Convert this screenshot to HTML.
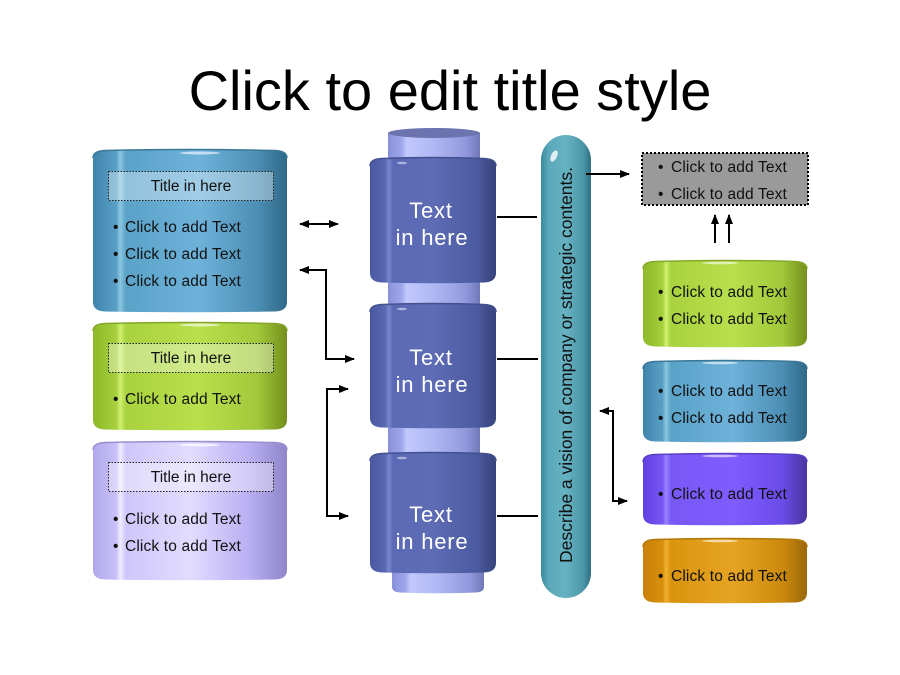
<!DOCTYPE html>
<html><head><meta charset="utf-8"><style>
html,body{margin:0;padding:0;background:#fff;}
svg{display:block;}
text{font-family:"Liberation Sans",Arial,sans-serif;}
</style></head><body>
<svg width="900" height="675" viewBox="0 0 900 675" xmlns="http://www.w3.org/2000/svg">
<defs>
<linearGradient id="blueG" x1="0" y1="0" x2="1" y2="0">
<stop offset="0" stop-color="#3f84aa"/><stop offset=".12" stop-color="#5aa0c6"/><stop offset=".14" stop-color="#8cc6e0"/><stop offset=".17" stop-color="#5aa2c8"/><stop offset=".55" stop-color="#6eb2da"/><stop offset=".85" stop-color="#4c8eb4"/><stop offset="1" stop-color="#2f6888"/>
</linearGradient>
<linearGradient id="greenG" x1="0" y1="0" x2="1" y2="0">
<stop offset="0" stop-color="#8cb82a"/><stop offset=".12" stop-color="#a6d03c"/><stop offset=".14" stop-color="#d0f070"/><stop offset=".17" stop-color="#a8d23e"/><stop offset=".55" stop-color="#b8e04c"/><stop offset=".85" stop-color="#a0c83a"/><stop offset="1" stop-color="#748f1c"/>
</linearGradient>
<linearGradient id="lavG" x1="0" y1="0" x2="1" y2="0">
<stop offset="0" stop-color="#b0a8ec"/><stop offset=".12" stop-color="#c8c0f8"/><stop offset=".14" stop-color="#f0ecff"/><stop offset=".17" stop-color="#cec6fa"/><stop offset=".5" stop-color="#e2dcfe"/><stop offset=".8" stop-color="#bab0f4"/><stop offset="1" stop-color="#8e86c8"/>
</linearGradient>
<linearGradient id="purpleG" x1="0" y1="0" x2="1" y2="0">
<stop offset="0" stop-color="#6040e0"/><stop offset=".12" stop-color="#7656f4"/><stop offset=".14" stop-color="#9a84ff"/><stop offset=".17" stop-color="#7858f6"/><stop offset=".55" stop-color="#7e5cff"/><stop offset=".85" stop-color="#6a4ce8"/><stop offset="1" stop-color="#4a34a0"/>
</linearGradient>
<linearGradient id="orangeG" x1="0" y1="0" x2="1" y2="0">
<stop offset="0" stop-color="#c88008"/><stop offset=".12" stop-color="#d8900c"/><stop offset=".14" stop-color="#f0b030"/><stop offset=".17" stop-color="#da940e"/><stop offset=".55" stop-color="#e6a424"/><stop offset=".85" stop-color="#cc8a0c"/><stop offset="1" stop-color="#9a6808"/>
</linearGradient>
<linearGradient id="cylG" x1="0" y1="0" x2="1" y2="0">
<stop offset="0" stop-color="#4a58a2"/><stop offset=".12" stop-color="#5a68b4"/><stop offset=".15" stop-color="#7886cc"/><stop offset=".18" stop-color="#5c6ab6"/><stop offset=".5" stop-color="#5e6cb6"/><stop offset=".85" stop-color="#4c5aa0"/><stop offset="1" stop-color="#36427a"/>
</linearGradient>
<linearGradient id="capG" x1="0" y1="0" x2="1" y2="0">
<stop offset="0" stop-color="#8890d8"/><stop offset=".15" stop-color="#a0a8ec"/><stop offset=".2" stop-color="#c0c8fc"/><stop offset=".5" stop-color="#b0b8f4"/><stop offset=".85" stop-color="#9098dc"/><stop offset="1" stop-color="#7078b8"/>
</linearGradient>
<linearGradient id="pillG" x1="0" y1="0" x2="1" y2="0">
<stop offset="0" stop-color="#3a8a9c"/><stop offset=".15" stop-color="#5aa8ba"/><stop offset=".5" stop-color="#66b2c2"/><stop offset=".85" stop-color="#4a96a8"/><stop offset="1" stop-color="#2e6e80"/>
</linearGradient>
<marker id="ah" viewBox="0 0 10 10" refX="9" refY="5" markerWidth="5" markerHeight="5" orient="auto-start-reverse" markerUnits="strokeWidth">
<path d="M0,1 L10,5 L0,9 Z" fill="#000"/>
</marker>
</defs>

<!-- Title -->
<text x="450" y="110" font-size="56" text-anchor="middle" fill="#000">Click to edit title style</text>

<!-- LEFT: blue box -->
<path d="M93,158 Q93,151 105,150.5 Q190,148.5 275,150.5 Q287,151 287,158 L287,302 Q287,311 275,311.5 Q190,313 105,311.5 Q93,311 93,302 Z" fill="url(#blueG)"/>
<path d="M93,158 Q93,151 105,150.5 Q190,148.5 275,150.5 Q287,151 287,158" fill="none" stroke="#3a7896" stroke-width="1.5"/>
<ellipse cx="200" cy="153" rx="20" ry="1.5" fill="#fff" opacity=".6"/>
<rect x="108.5" y="171.5" width="165" height="29" fill="#fff" fill-opacity=".35" stroke="#222" stroke-width="1" stroke-dasharray="1.5,1.5"/>
<text x="191" y="191" font-size="15.5" text-anchor="middle" fill="#111">Title in here</text>
<g font-size="15.5" fill="#111" letter-spacing="0.15">
<text x="113" y="232">•</text><text x="125" y="232">Click to add Text</text>
<text x="113" y="259">•</text><text x="125" y="259">Click to add Text</text>
<text x="113" y="286">•</text><text x="125" y="286">Click to add Text</text>
</g>

<!-- LEFT: green box -->
<path d="M93,331 Q93,324 105,323.5 Q190,321.5 275,323.5 Q287,324 287,331 L287,420 Q287,429 275,429.5 Q190,431 105,429.5 Q93,429 93,420 Z" fill="url(#greenG)"/>
<path d="M93,331 Q93,324 105,323.5 Q190,321.5 275,323.5 Q287,324 287,331" fill="none" stroke="#86a82a" stroke-width="1.5"/>
<ellipse cx="200" cy="325" rx="20" ry="1.5" fill="#fff" opacity=".6"/>
<rect x="108.5" y="343.5" width="165" height="29" fill="#fff" fill-opacity=".35" stroke="#222" stroke-width="1" stroke-dasharray="1.5,1.5"/>
<text x="191" y="363" font-size="15.5" text-anchor="middle" fill="#111">Title in here</text>
<g font-size="15.5" fill="#111" letter-spacing="0.15">
<text x="113" y="404">•</text><text x="125" y="404">Click to add Text</text>
</g>

<!-- LEFT: lavender box -->
<path d="M93,450 Q93,443 105,442.5 Q190,440.5 275,442.5 Q287,443 287,450 L287,570 Q287,579 275,579.5 Q190,581 105,579.5 Q93,579 93,570 Z" fill="url(#lavG)"/>
<path d="M93,450 Q93,443 105,442.5 Q190,440.5 275,442.5 Q287,443 287,450" fill="none" stroke="#9a90d0" stroke-width="1.5"/>
<ellipse cx="200" cy="445" rx="20" ry="1.5" fill="#fff" opacity=".7"/>
<rect x="108.5" y="462.5" width="165" height="29" fill="#fff" fill-opacity=".35" stroke="#222" stroke-width="1" stroke-dasharray="1.5,1.5"/>
<text x="191" y="482" font-size="15.5" text-anchor="middle" fill="#111">Title in here</text>
<g font-size="15.5" fill="#111" letter-spacing="0.15">
<text x="113" y="524">•</text><text x="125" y="524">Click to add Text</text>
<text x="113" y="551">•</text><text x="125" y="551">Click to add Text</text>
</g>

<!-- Left connectors -->
<g stroke="#000" stroke-width="2" fill="none">
<line x1="300" y1="224" x2="338" y2="224" marker-start="url(#ah)" marker-end="url(#ah)"/>
<polyline points="300,270 326,270 326,359 354,359" marker-start="url(#ah)" marker-end="url(#ah)"/>
<polyline points="348,389 327,389 327,516 348,516" marker-start="url(#ah)" marker-end="url(#ah)"/>
</g>

<!-- CENTER column -->
<path d="M388,134 C388,126 480,126 480,134 L480,162 L388,162 Z" fill="url(#capG)"/>
<ellipse cx="434" cy="133" rx="46" ry="5" fill="#6c74b0"/>
<rect x="388" y="278" width="92" height="30" fill="url(#capG)"/>
<rect x="388" y="424" width="92" height="34" fill="url(#capG)"/>
<path d="M392,568 L484,568 L484,587 Q484,592 476,592.5 Q438,594 400,592.5 Q392,592 392,587 Z" fill="url(#capG)"/>

<path d="M370,166 Q370,159 382,158.5 Q433,156.5 484,158.5 Q496,159 496,166 L496,273 Q496,282 484,282.5 Q433,284 382,282.5 Q370,282 370,273 Z" fill="url(#cylG)"/>
<path d="M370,166 Q370,159 382,158.5 Q433,156.5 484,158.5 Q496,159 496,166" fill="none" stroke="#44508e" stroke-width="1.5"/>
<ellipse cx="402" cy="163" rx="5" ry="1.2" fill="#fff" opacity=".5"/>

<path d="M370,312 Q370,305 382,304.5 Q433,302.5 484,304.5 Q496,305 496,312 L496,418 Q496,427 484,427.5 Q433,429 382,427.5 Q370,427 370,418 Z" fill="url(#cylG)"/>
<path d="M370,312 Q370,305 382,304.5 Q433,302.5 484,304.5 Q496,305 496,312" fill="none" stroke="#44508e" stroke-width="1.5"/>
<ellipse cx="402" cy="309" rx="5" ry="1.2" fill="#fff" opacity=".5"/>

<path d="M370,461 Q370,454 382,453.5 Q433,451.5 484,453.5 Q496,454 496,461 L496,563 Q496,572 484,572.5 Q433,574 382,572.5 Q370,572 370,563 Z" fill="url(#cylG)"/>
<path d="M370,461 Q370,454 382,453.5 Q433,451.5 484,453.5 Q496,454 496,461" fill="none" stroke="#44508e" stroke-width="1.5"/>
<ellipse cx="402" cy="458" rx="5" ry="1.2" fill="#fff" opacity=".5"/>

<g font-size="22" fill="#fff" text-anchor="middle" letter-spacing="0.8">
<text x="431" y="218">Text</text><text x="432" y="245">in here</text>
<text x="431" y="365">Text</text><text x="432" y="392">in here</text>
<text x="431" y="522">Text</text><text x="432" y="549">in here</text>
</g>

<g stroke="#000" stroke-width="2">
<line x1="497" y1="217" x2="537" y2="217"/>
<line x1="497" y1="359" x2="538" y2="359"/>
<line x1="497" y1="516" x2="538" y2="516"/>
</g>

<!-- Pill -->
<rect x="541" y="135" width="50" height="463" rx="25" ry="25" fill="url(#pillG)"/>
<ellipse cx="554" cy="156" rx="3" ry="6" transform="rotate(25 554 156)" fill="#fff" opacity=".8"/>
<text transform="translate(572,563) rotate(-90)" font-size="17.5" fill="#111" textLength="396" lengthAdjust="spacingAndGlyphs">Describe a vision of company or strategic contents.</text>

<g stroke="#000" stroke-width="2" fill="none">
<line x1="586" y1="174" x2="629" y2="174" marker-end="url(#ah)"/>
<line x1="715" y1="243" x2="715" y2="215" marker-end="url(#ah)"/>
<line x1="729" y1="243" x2="729" y2="215" marker-end="url(#ah)"/>
<polyline points="600,411 613,411 613,501 627,501" marker-start="url(#ah)" marker-end="url(#ah)"/>
</g>

<!-- Gray box -->
<rect x="642" y="153" width="166" height="52" fill="#9a9a9a" stroke="#000" stroke-width="2" stroke-dasharray="2,2"/>
<g font-size="15.5" fill="#111" letter-spacing="0.15">
<text x="658" y="172">•</text><text x="671" y="172">Click to add Text</text>
<text x="658" y="199">•</text><text x="671" y="199">Click to add Text</text>
</g>

<!-- Right boxes -->
<path d="M643,269 Q643,262 655,261.5 Q725,259.5 795,261.5 Q807,262 807,269 L807,337 Q807,346 795,346.5 Q725,348 655,346.5 Q643,346 643,337 Z" fill="url(#greenG)"/>
<path d="M643,269 Q643,262 655,261.5 Q725,259.5 795,261.5 Q807,262 807,269" fill="none" stroke="#86a82a" stroke-width="1.5"/>
<ellipse cx="720" cy="263" rx="18" ry="1.3" fill="#fff" opacity=".6"/>

<path d="M643,369 Q643,362 655,361.5 Q725,359.5 795,361.5 Q807,362 807,369 L807,432 Q807,441 795,441.5 Q725,443 655,441.5 Q643,441 643,432 Z" fill="url(#blueG)"/>
<path d="M643,369 Q643,362 655,361.5 Q725,359.5 795,361.5 Q807,362 807,369" fill="none" stroke="#3a7896" stroke-width="1.5"/>
<ellipse cx="720" cy="363" rx="18" ry="1.3" fill="#fff" opacity=".6"/>

<path d="M643,462 Q643,455 655,454.5 Q725,452.5 795,454.5 Q807,455 807,462 L807,515 Q807,524 795,524.5 Q725,526 655,524.5 Q643,524 643,515 Z" fill="url(#purpleG)"/>
<path d="M643,462 Q643,455 655,454.5 Q725,452.5 795,454.5 Q807,455 807,462" fill="none" stroke="#5a40c0" stroke-width="1.5"/>
<ellipse cx="720" cy="456" rx="18" ry="1.3" fill="#fff" opacity=".6"/>

<path d="M643,547 Q643,540 655,539.5 Q725,537.5 795,539.5 Q807,540 807,547 L807,593 Q807,602 795,602.5 Q725,604 655,602.5 Q643,602 643,593 Z" fill="url(#orangeG)"/>
<path d="M643,547 Q643,540 655,539.5 Q725,537.5 795,539.5 Q807,540 807,547" fill="none" stroke="#b07808" stroke-width="1.5"/>
<ellipse cx="720" cy="541" rx="18" ry="1.3" fill="#fff" opacity=".6"/>

<g font-size="15.5" fill="#111" letter-spacing="0.15">
<text x="658" y="297">•</text><text x="671" y="297">Click to add Text</text>
<text x="658" y="324">•</text><text x="671" y="324">Click to add Text</text>
<text x="658" y="396">•</text><text x="671" y="396">Click to add Text</text>
<text x="658" y="423">•</text><text x="671" y="423">Click to add Text</text>
<text x="658" y="499">•</text><text x="671" y="499">Click to add Text</text>
<text x="658" y="581">•</text><text x="671" y="581">Click to add Text</text>
</g>
</svg>
</body></html>
